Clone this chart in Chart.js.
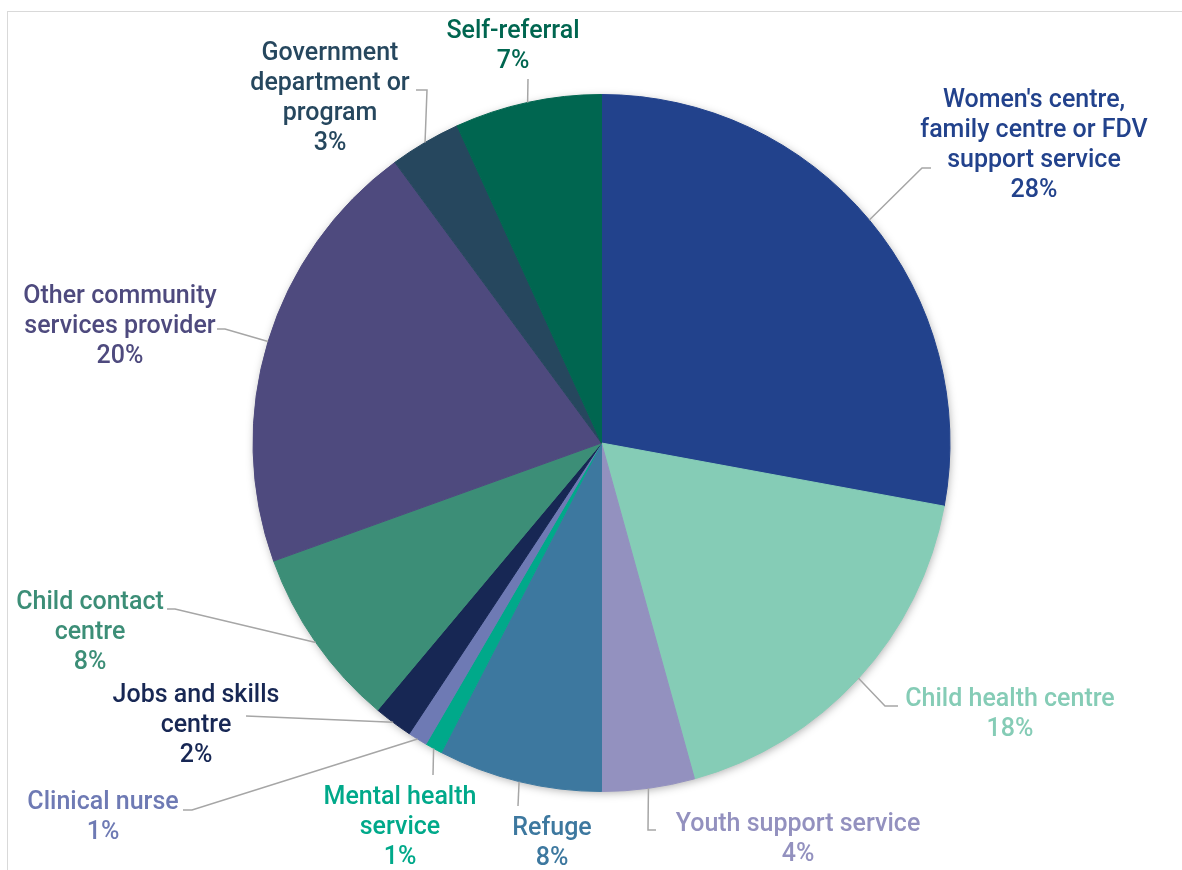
<!DOCTYPE html>
<html>
<head>
<meta charset="utf-8">
<script src="https://cdn.jsdelivr.net/npm/chart.js@4"></script>
<style>
  html, body { margin: 0; padding: 0; background: #fff; overflow: hidden; }
  #wrap { position: relative; width: 1182px; height: 870px; }
  #frame { position: absolute; left: 7px; top: 11px; width: 1200px; height: 900px; border: 1px solid #D9D9D9; box-sizing: border-box; }
  canvas { position: absolute; left: 0; top: 0; }
</style>
</head>
<body>
<div id="wrap">
  <div id="frame"></div>
  <canvas id="pieChart" width="1182" height="870"></canvas>
</div>
<script>
// Referral sources (clockwise from 12 o'clock)
const categories = [
  ["Women's centre,", "family centre or FDV", "support service"],
  ["Child health centre"],
  ["Youth support service"],
  ["Refuge"],
  ["Mental health", "service"],
  ["Clinical nurse"],
  ["Jobs and skills", "centre"],
  ["Child contact", "centre"],
  ["Other community", "services provider"],
  ["Government", "department or", "program"],
  ["Self-referral"]
];
const shares = [27.9, 17.8, 4.3, 7.6, 0.8, 0.9, 1.8, 8.4, 20.4, 3.3, 6.8];
const colors = ['#22428C', '#85CCB6', '#9391BF', '#3D789F', '#00A98A', '#6E7AB4',
                '#172754', '#3C8E77', '#4E4A7E', '#26475E', '#006650'];

// label placement: text centre x, first line y, leader elbow and end
const labelLayout = [
  { x: 1034, y: 101, elbow: [922, 168], end: [931, 168] },
  { x: 1010, y: 700, elbow: [885, 706], end: [898, 706] },
  { x: 798,  y: 825, elbow: [648, 830], end: [656, 830] },
  { x: 552,  y: 829, elbow: [518, 806], end: [518, 806] },
  { x: 400,  y: 798, elbow: [433, 775], end: [433, 775] },
  { x: 103,  y: 803, elbow: [192, 810], end: [183, 810] },
  { x: 196,  y: 696, elbow: [246, 716], end: [246, 716] },
  { x: 90,   y: 603, elbow: [175, 609], end: [167, 609] },
  { x: 120,  y: 297, elbow: [225, 329], end: [217, 329] },
  { x: 330,  y: 54,  elbow: [427, 90],  end: [416, 90] },
  { x: 513,  y: 32,  elbow: [528, 79],  end: [528, 79] }
];

// soft shadow under the pie
const pieShadow = {
  id: 'pieShadow',
  beforeDatasetsDraw(chart) {
    const arc = chart.getDatasetMeta(0).data[0];
    if (!arc) return;
    const ctx = chart.ctx;
    ctx.save();
    ctx.shadowColor = 'rgba(0,0,0,0.35)';
    ctx.shadowBlur = 10;
    ctx.shadowOffsetX = 1;
    ctx.shadowOffsetY = 2;
    ctx.fillStyle = '#fff';
    ctx.beginPath();
    ctx.arc(arc.x, arc.y, arc.outerRadius - 1, 0, Math.PI * 2);
    ctx.fill();
    ctx.restore();
  }
};

// outside labels with leader lines
const outsideLabels = {
  id: 'outsideLabels',
  afterDatasetsDraw(chart) {
    const ctx = chart.ctx;
    const arcs = chart.getDatasetMeta(0).data;
    ctx.save();
    arcs.forEach((arc, i) => {
      const lay = labelLayout[i];
      const mid = (arc.startAngle + arc.endAngle) / 2;
      const sx = arc.x + Math.cos(mid) * arc.outerRadius;
      const sy = arc.y + Math.sin(mid) * arc.outerRadius;
      ctx.strokeStyle = '#A6A6A6';
      ctx.lineWidth = 1.5;
      ctx.beginPath();
      ctx.moveTo(sx, sy);
      ctx.lineTo(lay.elbow[0], lay.elbow[1]);
      ctx.lineTo(lay.end[0], lay.end[1]);
      ctx.stroke();

      const lines = categories[i].concat([Math.round(shares[i]) + '%']);
      ctx.fillStyle = colors[i];
      ctx.font = '500 25px Roboto';
      ctx.textAlign = 'center';
      ctx.textBaseline = 'middle';
      lines.forEach((t, k) => ctx.fillText(t, lay.x, lay.y + k * 30));
    });
    ctx.restore();
  }
};

new Chart(document.getElementById('pieChart').getContext('2d'), {
  type: 'pie',
  data: {
    labels: categories.map(c => c.join(' ')),
    datasets: [{
      data: shares,
      backgroundColor: colors,
      borderColor: colors,
      borderWidth: 1
    }]
  },
  options: {
    responsive: false,
    animation: false,
    layout: { padding: { top: 94, bottom: 78, left: 252, right: 231 } },
    plugins: {
      legend: { display: false },
      tooltip: { enabled: false }
    }
  },
  plugins: [pieShadow, outsideLabels]
});
</script>
</body>
</html>
